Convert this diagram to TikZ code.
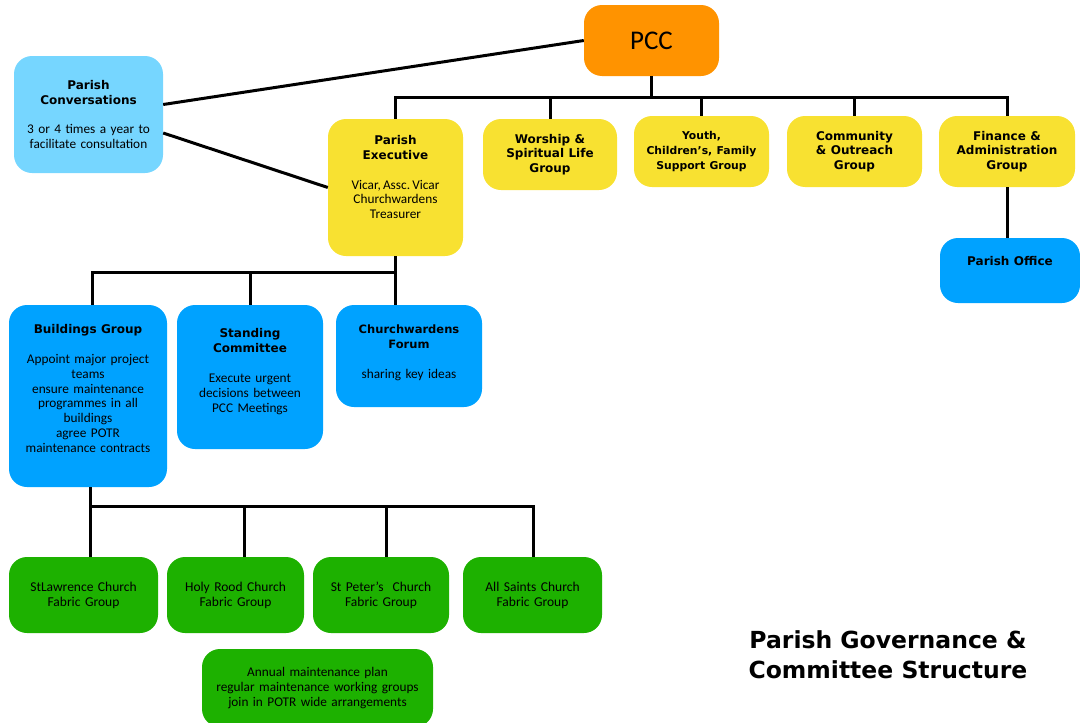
\documentclass[tikz,border=0pt]{standalone}
\usepackage{fontspec}
\setmainfont{Carlito}
\newfontfamily\headfont{DejaVu Sans}
\usetikzlibrary{positioning}
\definecolor{pccorange}{HTML}{FF9300}
\definecolor{skyblue}{HTML}{76D6FF}
\definecolor{execyellow}{HTML}{F8E131}
\definecolor{aquablue}{HTML}{00A2FF}
\definecolor{clovergreen}{HTML}{1DB100}
\newcommand{\hd}[1]{\headfont\bfseries\fontsize{#1}{14.8pt}\selectfont}
\newcommand{\lift}[1]{\rule[-#1]{0pt}{0pt}}
\tikzset{
	box/.style={rounded corners=18pt, inner sep=0pt, align=center, font=\fontsize{13.3pt}{14.8pt}\selectfont},
	sz/.style 2 args={minimum width=#1, text width=#1, minimum height=#2},
	fabric/.style={box, fill=clovergreen, font=\fontsize{13.5pt}{15pt}\selectfont},
	link/.style={line width=3pt},
}
\begin{document}
\begin{tikzpicture}[x=1pt,y=-1pt]
				\useasboundingbox (0,0) rectangle (1080,723);
				\node[box, sz={135pt}{71pt}, fill=pccorange, font=\fontsize{27pt}{30pt}\selectfont] (pcc) at (651.5,40.5) {PCC};
				\node[box, sz={149pt}{117pt}, fill=skyblue] (conv) at (88.5,114.5) {{\hd{12}Parish\\Conversations}\\[15pt]3 or 4 times a year to\\facilitate consultation};
				\node[box, sz={135pt}{137pt}, fill=execyellow] (exec) at (395.5,187.5) {{\hd{12}Parish\\Executive}\\[15pt]Vicar,\,Assc.\,Vicar\\Churchwardens\\Treasurer\lift{21pt}};
				\node[box, sz={134pt}{71pt}, fill=execyellow] (worship) at (550,154.5) {{\hd{12}Worship \&\\Spiritual Life\\Group}};
				\node[box, sz={135pt}{71pt}, fill=execyellow] (youth) at (701.5,151.5) {{\hd{10.8}Youth,\\Children’s, Family\\Support Group}};
				\node[box, sz={135pt}{71pt}, fill=execyellow] (comm) at (854.5,151.5) {{\hd{12}Community\\\& Outreach\\Group}};
				\node[box, sz={136pt}{71pt}, fill=execyellow] (fin) at (1007,151.5) {{\hd{12}Finance \&\\Administration\\Group}};
				\node[box, sz={140pt}{65pt}, fill=aquablue] (office) at (1010,270.5) {{\hd{12}Parish Office}\lift{19pt}};
				% committees under the executive
				\node[box, sz={158pt}{182pt}, fill=aquablue] (build) at (88,396) {{\hd{12}Buildings Group}\\[15pt]Appoint major project\\teams\\ensure maintenance\\programmes in all\\buildings\\agree POTR\\maintenance contracts\lift{15pt}};
				\node[box, sz={146pt}{144pt}, fill=aquablue] (stand) at (250,377) {{\hd{12}Standing\\Committee}\\[15pt]Execute urgent\\decisions between\\PCC Meetings\lift{13pt}};
				\node[box, sz={146pt}{102pt}, fill=aquablue] (forum) at (409,356) {{\hd{11.5}Churchwardens\\Forum}\\[15pt]sharing key ideas\lift{9pt}};
				% fabric groups
				\node[fabric, sz={149pt}{76pt}] (lawr) at (83.5,595) {StLawrence Church\\Fabric Group};
				\node[fabric, sz={137pt}{76pt}] (rood) at (235.5,595) {Holy Rood Church\\Fabric Group};
				\node[fabric, sz={136pt}{76pt}] (peter) at (381,595) {St Peter’s~ Church\\Fabric Group};
				\node[fabric, sz={139pt}{76pt}] (saints) at (532.5,595) {All Saints Church\\Fabric Group};
				\node[fabric, sz={231pt}{78pt}, font=\fontsize{13.3pt}{15pt}\selectfont] (plan) at (317.5,688) {Annual maintenance plan\\regular maintenance working groups\\join in POTR wide arrangements};
				\node[font=\headfont\bfseries\fontsize{23.5pt}{30pt}\selectfont, align=center] (title) at (888,655) {Parish Governance \&\\Committee Structure};
				% connectors
				\draw[link] (pcc.south) -- ++(0,21) coordinate (topbus);
				\foreach \n in {exec,worship,youth,comm,fin}
					\draw[link] (\n.north) |- (topbus);
				\draw[link] (pcc.west) -- ([yshift=10pt]conv.east);
				\draw[link] ([yshift=-18.5pt]conv.east) -- (exec.west);
				\draw[link] (fin.south) -- (fin.south |- office.north);
				\draw[link] (exec.south) -- ++(0,16) coordinate (midbus) -- (midbus |- forum.north);
				\foreach \n/\dx in {build/4,stand/0}
					\draw[link] ([xshift=\dx pt]\n.north) |- (midbus);
				\draw[link] ([xshift=2pt]build.south) -- ++(0,19) coordinate (lowbus) -- (lowbus |- lawr.north);
				\foreach \n/\dx in {rood/8.5,peter/5,saints/0.5}
					\draw[link] ([xshift=\dx pt]\n.north) |- (lowbus);
\end{tikzpicture}
\end{document}
